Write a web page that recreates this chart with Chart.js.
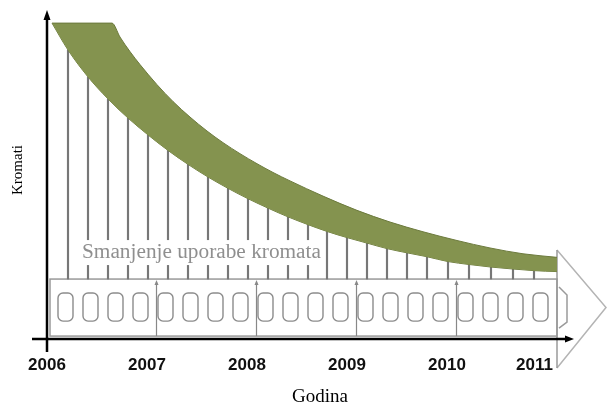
<!DOCTYPE html>
<html>
<head>
<meta charset="utf-8">
<script src="https://cdn.jsdelivr.net/npm/chart.js@4.4.0/dist/chart.umd.min.js"></script>
<style>
  html, body { margin: 0; padding: 0; background: #fff; }
  canvas { display: block; }
</style>
</head>
<body>
<canvas id="kromati" width="608" height="410"></canvas>
<script>
// year ticks on the time axis
const yearTicks = [2006, 2007, 2008, 2009, 2010, 2011];

// upper edge of the green band (level of chromate use)
const upperYears = [2006.05, 2006.65, 2006.73, 2006.83, 2006.93, 2007.10, 2007.26, 2007.43, 2007.60, 2007.76,
  2007.93, 2008.10, 2008.26, 2008.43, 2008.76, 2009.10, 2009.43, 2009.76, 2010.10, 2010.43, 2010.76, 2011.10];
const upperLevel = [97.5, 97.5, 93.2, 88.7, 84.7, 78.5, 73.3, 68.5, 64.2, 60.6,
  57.2, 54.1, 51.4, 48.8, 44.1, 39.7, 36.1, 33.1, 30.4, 28.1, 26.3, 25.2];

// lower edge of the band, sampled where the hatch lines stand
const lowerYears = [2006.05, 2006.21, 2006.41, 2006.61, 2006.81, 2007.01, 2007.21, 2007.41, 2007.61, 2007.81,
  2008.01, 2008.21, 2008.41, 2008.61, 2008.80, 2009.00, 2009.20, 2009.40, 2009.60, 2009.80,
  2010.01, 2010.22, 2010.44, 2010.66, 2010.87, 2011.10];
const lowerLevel = [97.5, 89.2, 80.9, 74.1, 68.2, 63.0, 58.2, 53.9, 50.0, 46.5,
  43.3, 40.4, 37.7, 35.3, 33.2, 31.3, 29.6, 27.9, 26.6, 25.4,
  23.9, 23.0, 22.2, 21.6, 21.1, 20.8];

// film strip along the time axis
const stripLevel = 18.5;
const stripFloor = 0.9;
const stripStart = 2006.03;
const stripEnd = 2011.10;

const bandGreen = '#84934f';
const bandEdge = '#6c7a3d';

const upperPts = upperYears.map((yr, i) => ({ x: yr, y: upperLevel[i] }));
const lowerPts = lowerYears.map((yr, i) => ({ x: yr, y: lowerLevel[i] }));
const hatchPts = lowerYears.slice(1, -1).map((yr, i) => ({ x: yr, y: [stripLevel, lowerLevel[i + 1]] }));

const decor = {
  id: 'decor',
  beforeDatasetsDraw(chart) {
    const { ctx, scales: { x, y } } = chart;
    const top = y.getPixelForValue(stripLevel);
    const bottom = y.getPixelForValue(stripFloor);
    const left = x.getPixelForValue(stripStart);
    const right = x.getPixelForValue(stripEnd);
    const mid = (top + bottom) / 2;
    ctx.save();

    // big outlined arrow at the end of the strip
    ctx.strokeStyle = '#b4b4b4';
    ctx.lineWidth = 1.5;
    ctx.beginPath();
    ctx.moveTo(right, top - 29);
    ctx.lineTo(right + 49, mid + 0);
    ctx.lineTo(right, bottom + 32);
    ctx.stroke();
    ctx.strokeStyle = '#9a9a9a';
    ctx.beginPath();
    ctx.moveTo(right, top - 29);
    ctx.lineTo(right, bottom + 32);
    ctx.stroke();
    ctx.beginPath();
    ctx.moveTo(right + 2, top + 8);
    ctx.lineTo(right + 10, top + 16);
    ctx.lineTo(right + 10, bottom - 14);
    ctx.lineTo(right + 2, bottom - 8);
    ctx.stroke();

    // strip frame
    ctx.strokeStyle = '#999';
    ctx.lineWidth = 1.5;
    ctx.strokeRect(left, top, right - left, bottom - top);

    // film frames, four per year
    ctx.strokeStyle = '#8c8c8c';
    ctx.lineWidth = 1.4;
    for (let yr = 2006; yr < 2011; yr++) {
      for (let k = 0; k < 4; k++) {
        const cx = x.getPixelForValue(yr + 0.185 + k * 0.25);
        ctx.beginPath();
        ctx.roundRect(cx - 7.5, top + 14, 15, bottom - top - 29, 5);
        ctx.stroke();
      }
    }

    // year dividers with small arrow tips
    ctx.strokeStyle = '#888';
    ctx.fillStyle = '#888';
    ctx.lineWidth = 1.2;
    for (let yr = 2007; yr < 2011; yr++) {
      const dx = Math.round(x.getPixelForValue(yr + 0.085)) + 0.5;
      ctx.beginPath();
      ctx.moveTo(dx, bottom);
      ctx.lineTo(dx, top + 3);
      ctx.stroke();
      ctx.beginPath();
      ctx.moveTo(dx, top + 1);
      ctx.lineTo(dx - 2, top + 6);
      ctx.lineTo(dx + 2, top + 6);
      ctx.closePath();
      ctx.fill();
    }
    ctx.restore();
  },
  afterDatasetsDraw(chart) {
    const { ctx, scales: { x, y } } = chart;
    const x0 = x.getPixelForValue(2006);
    const y0 = y.getPixelForValue(0);
    ctx.save();

    // caption over the hatch lines
    ctx.font = '21.3px "Liberation Serif"';
    const caption = 'Smanjenje uporabe kromata';
    const capX = 82;
    const capBase = y.getPixelForValue(stripLevel) - 21;
    const w = ctx.measureText(caption).width;
    ctx.fillStyle = '#fff';
    ctx.fillRect(capX - 2, capBase - 18, w + 4, 25);
    ctx.fillStyle = '#8f8f8f';
    ctx.textBaseline = 'alphabetic';
    ctx.fillText(caption, capX, capBase);

    // axes with arrow heads
    ctx.strokeStyle = '#000';
    ctx.fillStyle = '#000';
    ctx.lineWidth = 2.5;
    ctx.beginPath();
    ctx.moveTo(x0, y0 + 13);
    ctx.lineTo(x0, 18);
    ctx.moveTo(x0 - 15, y0);
    ctx.lineTo(x.right + 10, y0);
    ctx.stroke();
    ctx.beginPath();
    ctx.moveTo(x0, 10);
    ctx.lineTo(x0 - 3.5, 20);
    ctx.lineTo(x0 + 3.5, 20);
    ctx.closePath();
    ctx.fill();
    ctx.beginPath();
    ctx.moveTo(x.right + 17, y0);
    ctx.lineTo(x.right + 8, y0 - 3.5);
    ctx.lineTo(x.right + 8, y0 + 3.5);
    ctx.closePath();
    ctx.fill();

    // year labels
    ctx.font = 'bold 17px "Liberation Sans"';
    ctx.fillStyle = '#111';
    ctx.textBaseline = 'middle';
    yearTicks.forEach((yr, i) => {
      const px = x.getPixelForValue(yr);
      if (i === yearTicks.length - 1) {
        ctx.textAlign = 'right';
        ctx.fillText(String(yr), px + 6, y0 + 26);
      } else {
        ctx.textAlign = 'center';
        ctx.fillText(String(yr), px, y0 + 26);
      }
    });

    // axis titles
    ctx.fillStyle = '#000';
    ctx.textAlign = 'center';
    ctx.font = '19px "Liberation Serif"';
    ctx.fillText('Godina', 320, y0 + 58);
    ctx.translate(18, 170);
    ctx.rotate(-Math.PI / 2);
    ctx.font = '15px "Liberation Serif"';
    ctx.fillText('Kromati', 0, 0);
    ctx.restore();
  }
};

new Chart(document.getElementById('kromati'), {
  type: 'line',
  data: {
    datasets: [
      {
        label: 'Gornja granica',
        data: upperPts,
        borderColor: bandEdge,
        borderWidth: 1,
        backgroundColor: bandGreen,
        fill: '+1',
        pointRadius: 0,
        cubicInterpolationMode: 'monotone',
        order: 1
      },
      {
        label: 'Donja granica',
        data: lowerPts,
        borderColor: bandEdge,
        borderWidth: 1,
        fill: false,
        pointRadius: 0,
        cubicInterpolationMode: 'monotone',
        order: 2
      },
      {
        type: 'bar',
        label: 'Crte',
        data: hatchPts,
        backgroundColor: '#777',
        barThickness: 1.5,
        grouped: false,
        order: 3
      }
    ]
  },
  options: {
    responsive: false,
    animation: false,
    devicePixelRatio: 1,
    layout: { padding: { left: 47, top: 15, right: 51, bottom: 71 } },
    scales: {
      x: { type: 'linear', min: 2006, max: 2011.1, offset: false, display: false },
      y: { type: 'linear', min: 0, max: 100, display: false }
    },
    plugins: {
      legend: { display: false },
      tooltip: { enabled: false }
    }
  },
  plugins: [decor]
});
</script>
</body>
</html>
